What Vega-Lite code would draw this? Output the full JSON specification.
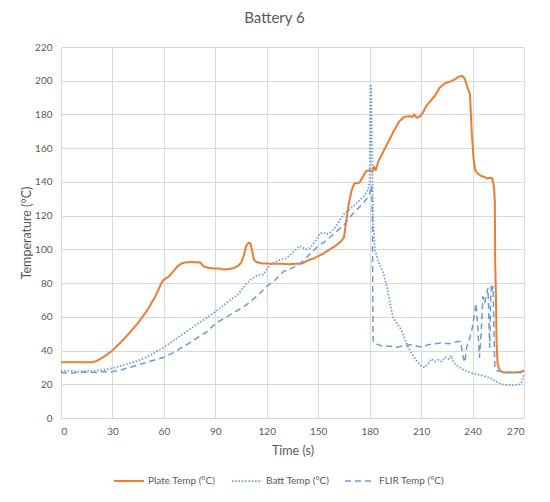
{
  "$schema": "https://vega.github.io/schema/vega-lite/v6.json",
  "autosize": {"type": "none"},
  "padding": {"left": 61, "top": 47, "right": 26, "bottom": 84},
  "width": 463,
  "height": 371,
  "background": "white",
  "title": {
    "text": "Battery 6",
    "font": "Lato",
    "fontSize": 15,
    "fontWeight": "normal",
    "color": "#595959",
    "dx": -18,
    "offset": 16
  },
  "config": {
    "view": {"stroke": null},
    "axis": {
      "labelFont": "Lato",
      "labelFontSize": 10,
      "labelColor": "#595959",
      "titleFont": "Lato",
      "titleFontSize": 12.5,
      "titleFontWeight": "normal",
      "titleColor": "#595959",
      "gridColor": "#D9D9D9",
      "domain": false,
      "ticks": false
    },
    "legend": {
      "labelFont": "Lato",
      "labelFontSize": 10,
      "labelColor": "#595959"
    }
  },
  "data": {
    "values": [
      {"series": "Plate Temp (°C)", "time": 0, "temp": 33},
      {"series": "Plate Temp (°C)", "time": 10, "temp": 33},
      {"series": "Plate Temp (°C)", "time": 18, "temp": 33},
      {"series": "Plate Temp (°C)", "time": 20, "temp": 33.5},
      {"series": "Plate Temp (°C)", "time": 23, "temp": 35},
      {"series": "Plate Temp (°C)", "time": 26, "temp": 37},
      {"series": "Plate Temp (°C)", "time": 30, "temp": 40},
      {"series": "Plate Temp (°C)", "time": 35, "temp": 45},
      {"series": "Plate Temp (°C)", "time": 40, "temp": 50.5},
      {"series": "Plate Temp (°C)", "time": 45, "temp": 56.5},
      {"series": "Plate Temp (°C)", "time": 50, "temp": 63.5},
      {"series": "Plate Temp (°C)", "time": 55, "temp": 72},
      {"series": "Plate Temp (°C)", "time": 58.5, "temp": 80},
      {"series": "Plate Temp (°C)", "time": 60, "temp": 82},
      {"series": "Plate Temp (°C)", "time": 63, "temp": 84},
      {"series": "Plate Temp (°C)", "time": 66, "temp": 87.5},
      {"series": "Plate Temp (°C)", "time": 68, "temp": 90},
      {"series": "Plate Temp (°C)", "time": 70, "temp": 91.5},
      {"series": "Plate Temp (°C)", "time": 72, "temp": 92.2},
      {"series": "Plate Temp (°C)", "time": 76, "temp": 92.5},
      {"series": "Plate Temp (°C)", "time": 80, "temp": 92.2},
      {"series": "Plate Temp (°C)", "time": 81, "temp": 92.5},
      {"series": "Plate Temp (°C)", "time": 83, "temp": 90},
      {"series": "Plate Temp (°C)", "time": 86, "temp": 89},
      {"series": "Plate Temp (°C)", "time": 89, "temp": 88.7},
      {"series": "Plate Temp (°C)", "time": 92, "temp": 88.6},
      {"series": "Plate Temp (°C)", "time": 95, "temp": 88},
      {"series": "Plate Temp (°C)", "time": 98, "temp": 88.3},
      {"series": "Plate Temp (°C)", "time": 101, "temp": 89},
      {"series": "Plate Temp (°C)", "time": 103, "temp": 90},
      {"series": "Plate Temp (°C)", "time": 105, "temp": 92},
      {"series": "Plate Temp (°C)", "time": 106.5, "temp": 96},
      {"series": "Plate Temp (°C)", "time": 108, "temp": 102},
      {"series": "Plate Temp (°C)", "time": 109.5, "temp": 104},
      {"series": "Plate Temp (°C)", "time": 110.5, "temp": 103.5},
      {"series": "Plate Temp (°C)", "time": 111.5, "temp": 99},
      {"series": "Plate Temp (°C)", "time": 112.5, "temp": 94},
      {"series": "Plate Temp (°C)", "time": 114, "temp": 92.5},
      {"series": "Plate Temp (°C)", "time": 117, "temp": 91.7},
      {"series": "Plate Temp (°C)", "time": 122, "temp": 91.5},
      {"series": "Plate Temp (°C)", "time": 128, "temp": 91.5},
      {"series": "Plate Temp (°C)", "time": 133, "temp": 91.2},
      {"series": "Plate Temp (°C)", "time": 138, "temp": 91.5},
      {"series": "Plate Temp (°C)", "time": 141, "temp": 91.7},
      {"series": "Plate Temp (°C)", "time": 144, "temp": 93.5},
      {"series": "Plate Temp (°C)", "time": 147, "temp": 94.5},
      {"series": "Plate Temp (°C)", "time": 150, "temp": 96},
      {"series": "Plate Temp (°C)", "time": 153, "temp": 97.5},
      {"series": "Plate Temp (°C)", "time": 156, "temp": 99.5},
      {"series": "Plate Temp (°C)", "time": 160, "temp": 102},
      {"series": "Plate Temp (°C)", "time": 163, "temp": 104.5},
      {"series": "Plate Temp (°C)", "time": 165, "temp": 107},
      {"series": "Plate Temp (°C)", "time": 165.7, "temp": 112},
      {"series": "Plate Temp (°C)", "time": 166.5, "temp": 118},
      {"series": "Plate Temp (°C)", "time": 168, "temp": 128},
      {"series": "Plate Temp (°C)", "time": 169.5, "temp": 135},
      {"series": "Plate Temp (°C)", "time": 171, "temp": 139},
      {"series": "Plate Temp (°C)", "time": 174, "temp": 139.5},
      {"series": "Plate Temp (°C)", "time": 176, "temp": 143},
      {"series": "Plate Temp (°C)", "time": 178, "temp": 146.5},
      {"series": "Plate Temp (°C)", "time": 180, "temp": 147},
      {"series": "Plate Temp (°C)", "time": 181.5, "temp": 146},
      {"series": "Plate Temp (°C)", "time": 182.5, "temp": 149},
      {"series": "Plate Temp (°C)", "time": 183.5, "temp": 147},
      {"series": "Plate Temp (°C)", "time": 185, "temp": 152},
      {"series": "Plate Temp (°C)", "time": 188, "temp": 158},
      {"series": "Plate Temp (°C)", "time": 191, "temp": 164},
      {"series": "Plate Temp (°C)", "time": 194, "temp": 170},
      {"series": "Plate Temp (°C)", "time": 197, "temp": 175.5},
      {"series": "Plate Temp (°C)", "time": 200, "temp": 178.5},
      {"series": "Plate Temp (°C)", "time": 203, "temp": 179},
      {"series": "Plate Temp (°C)", "time": 205, "temp": 178.5},
      {"series": "Plate Temp (°C)", "time": 206, "temp": 180},
      {"series": "Plate Temp (°C)", "time": 207.5, "temp": 178},
      {"series": "Plate Temp (°C)", "time": 209.5, "temp": 179},
      {"series": "Plate Temp (°C)", "time": 211, "temp": 181},
      {"series": "Plate Temp (°C)", "time": 213, "temp": 185},
      {"series": "Plate Temp (°C)", "time": 215, "temp": 187.5},
      {"series": "Plate Temp (°C)", "time": 218, "temp": 191},
      {"series": "Plate Temp (°C)", "time": 221, "temp": 196},
      {"series": "Plate Temp (°C)", "time": 224, "temp": 198.5},
      {"series": "Plate Temp (°C)", "time": 227, "temp": 199.5},
      {"series": "Plate Temp (°C)", "time": 230, "temp": 201},
      {"series": "Plate Temp (°C)", "time": 232, "temp": 202.5},
      {"series": "Plate Temp (°C)", "time": 234, "temp": 202.8},
      {"series": "Plate Temp (°C)", "time": 235.5, "temp": 201},
      {"series": "Plate Temp (°C)", "time": 237, "temp": 196},
      {"series": "Plate Temp (°C)", "time": 238.5, "temp": 192},
      {"series": "Plate Temp (°C)", "time": 239.5, "temp": 170},
      {"series": "Plate Temp (°C)", "time": 240.5, "temp": 155},
      {"series": "Plate Temp (°C)", "time": 241.5, "temp": 147},
      {"series": "Plate Temp (°C)", "time": 243, "temp": 145},
      {"series": "Plate Temp (°C)", "time": 245, "temp": 143.5},
      {"series": "Plate Temp (°C)", "time": 247, "temp": 143},
      {"series": "Plate Temp (°C)", "time": 248.5, "temp": 142},
      {"series": "Plate Temp (°C)", "time": 250.5, "temp": 142.5},
      {"series": "Plate Temp (°C)", "time": 251.5, "temp": 142},
      {"series": "Plate Temp (°C)", "time": 252.5, "temp": 137},
      {"series": "Plate Temp (°C)", "time": 253, "temp": 128},
      {"series": "Plate Temp (°C)", "time": 253.2, "temp": 92},
      {"series": "Plate Temp (°C)", "time": 253.6, "temp": 75},
      {"series": "Plate Temp (°C)", "time": 254, "temp": 45},
      {"series": "Plate Temp (°C)", "time": 254.6, "temp": 32},
      {"series": "Plate Temp (°C)", "time": 256, "temp": 28},
      {"series": "Plate Temp (°C)", "time": 258, "temp": 27},
      {"series": "Plate Temp (°C)", "time": 262, "temp": 27},
      {"series": "Plate Temp (°C)", "time": 266, "temp": 27},
      {"series": "Plate Temp (°C)", "time": 268, "temp": 27.2},
      {"series": "Plate Temp (°C)", "time": 269.5, "temp": 28},
      {"series": "Plate Temp (°C)", "time": 270, "temp": 27.5},

      {"series": "Batt Temp (°C)", "time": 0, "temp": 28},
      {"series": "Batt Temp (°C)", "time": 5, "temp": 28},
      {"series": "Batt Temp (°C)", "time": 10, "temp": 27.5},
      {"series": "Batt Temp (°C)", "time": 15, "temp": 28},
      {"series": "Batt Temp (°C)", "time": 20, "temp": 28},
      {"series": "Batt Temp (°C)", "time": 25, "temp": 28.5},
      {"series": "Batt Temp (°C)", "time": 30, "temp": 29.5},
      {"series": "Batt Temp (°C)", "time": 35, "temp": 31},
      {"series": "Batt Temp (°C)", "time": 40, "temp": 32.5},
      {"series": "Batt Temp (°C)", "time": 45, "temp": 34},
      {"series": "Batt Temp (°C)", "time": 50, "temp": 36},
      {"series": "Batt Temp (°C)", "time": 55, "temp": 39},
      {"series": "Batt Temp (°C)", "time": 60, "temp": 42},
      {"series": "Batt Temp (°C)", "time": 65, "temp": 45.5},
      {"series": "Batt Temp (°C)", "time": 70, "temp": 49},
      {"series": "Batt Temp (°C)", "time": 75, "temp": 52.5},
      {"series": "Batt Temp (°C)", "time": 80, "temp": 56},
      {"series": "Batt Temp (°C)", "time": 85, "temp": 59.5},
      {"series": "Batt Temp (°C)", "time": 90, "temp": 63},
      {"series": "Batt Temp (°C)", "time": 95, "temp": 67},
      {"series": "Batt Temp (°C)", "time": 100, "temp": 71},
      {"series": "Batt Temp (°C)", "time": 103, "temp": 73},
      {"series": "Batt Temp (°C)", "time": 106, "temp": 77},
      {"series": "Batt Temp (°C)", "time": 109, "temp": 80.5},
      {"series": "Batt Temp (°C)", "time": 112, "temp": 83},
      {"series": "Batt Temp (°C)", "time": 115, "temp": 85},
      {"series": "Batt Temp (°C)", "time": 118, "temp": 85},
      {"series": "Batt Temp (°C)", "time": 120, "temp": 88},
      {"series": "Batt Temp (°C)", "time": 122, "temp": 91},
      {"series": "Batt Temp (°C)", "time": 125, "temp": 92.5},
      {"series": "Batt Temp (°C)", "time": 128, "temp": 94},
      {"series": "Batt Temp (°C)", "time": 131, "temp": 94.5},
      {"series": "Batt Temp (°C)", "time": 134, "temp": 97},
      {"series": "Batt Temp (°C)", "time": 137, "temp": 100},
      {"series": "Batt Temp (°C)", "time": 139, "temp": 102},
      {"series": "Batt Temp (°C)", "time": 141, "temp": 101},
      {"series": "Batt Temp (°C)", "time": 143, "temp": 100},
      {"series": "Batt Temp (°C)", "time": 145, "temp": 100.5},
      {"series": "Batt Temp (°C)", "time": 147, "temp": 103},
      {"series": "Batt Temp (°C)", "time": 149, "temp": 106},
      {"series": "Batt Temp (°C)", "time": 151, "temp": 109.5},
      {"series": "Batt Temp (°C)", "time": 153, "temp": 110},
      {"series": "Batt Temp (°C)", "time": 155, "temp": 109},
      {"series": "Batt Temp (°C)", "time": 157, "temp": 110},
      {"series": "Batt Temp (°C)", "time": 160, "temp": 113},
      {"series": "Batt Temp (°C)", "time": 163, "temp": 118},
      {"series": "Batt Temp (°C)", "time": 165, "temp": 121},
      {"series": "Batt Temp (°C)", "time": 168, "temp": 123.5},
      {"series": "Batt Temp (°C)", "time": 171, "temp": 126},
      {"series": "Batt Temp (°C)", "time": 174, "temp": 129},
      {"series": "Batt Temp (°C)", "time": 177, "temp": 132},
      {"series": "Batt Temp (°C)", "time": 179, "temp": 135},
      {"series": "Batt Temp (°C)", "time": 180, "temp": 140},
      {"series": "Batt Temp (°C)", "time": 180.4, "temp": 198},
      {"series": "Batt Temp (°C)", "time": 180.9, "temp": 196},
      {"series": "Batt Temp (°C)", "time": 181.5, "temp": 150},
      {"series": "Batt Temp (°C)", "time": 182, "temp": 117},
      {"series": "Batt Temp (°C)", "time": 183, "temp": 100},
      {"series": "Batt Temp (°C)", "time": 185, "temp": 93},
      {"series": "Batt Temp (°C)", "time": 188, "temp": 86},
      {"series": "Batt Temp (°C)", "time": 190, "temp": 78},
      {"series": "Batt Temp (°C)", "time": 192, "temp": 67},
      {"series": "Batt Temp (°C)", "time": 193.5, "temp": 60},
      {"series": "Batt Temp (°C)", "time": 196, "temp": 56},
      {"series": "Batt Temp (°C)", "time": 198, "temp": 53},
      {"series": "Batt Temp (°C)", "time": 200, "temp": 48},
      {"series": "Batt Temp (°C)", "time": 202, "temp": 43},
      {"series": "Batt Temp (°C)", "time": 204, "temp": 39},
      {"series": "Batt Temp (°C)", "time": 206, "temp": 36},
      {"series": "Batt Temp (°C)", "time": 208, "temp": 33},
      {"series": "Batt Temp (°C)", "time": 210, "temp": 31},
      {"series": "Batt Temp (°C)", "time": 212, "temp": 30},
      {"series": "Batt Temp (°C)", "time": 214, "temp": 32},
      {"series": "Batt Temp (°C)", "time": 216, "temp": 35},
      {"series": "Batt Temp (°C)", "time": 218, "temp": 33.5},
      {"series": "Batt Temp (°C)", "time": 220, "temp": 34.5},
      {"series": "Batt Temp (°C)", "time": 222, "temp": 33.5},
      {"series": "Batt Temp (°C)", "time": 224, "temp": 36},
      {"series": "Batt Temp (°C)", "time": 226, "temp": 35},
      {"series": "Batt Temp (°C)", "time": 227.5, "temp": 37},
      {"series": "Batt Temp (°C)", "time": 229, "temp": 33},
      {"series": "Batt Temp (°C)", "time": 231, "temp": 31},
      {"series": "Batt Temp (°C)", "time": 234, "temp": 29},
      {"series": "Batt Temp (°C)", "time": 237, "temp": 27.5},
      {"series": "Batt Temp (°C)", "time": 240, "temp": 26.5},
      {"series": "Batt Temp (°C)", "time": 244, "temp": 25.5},
      {"series": "Batt Temp (°C)", "time": 248, "temp": 24.5},
      {"series": "Batt Temp (°C)", "time": 251, "temp": 23.5},
      {"series": "Batt Temp (°C)", "time": 253, "temp": 22},
      {"series": "Batt Temp (°C)", "time": 255, "temp": 21},
      {"series": "Batt Temp (°C)", "time": 257, "temp": 20},
      {"series": "Batt Temp (°C)", "time": 260, "temp": 19.5},
      {"series": "Batt Temp (°C)", "time": 264, "temp": 19.5},
      {"series": "Batt Temp (°C)", "time": 267, "temp": 19.8},
      {"series": "Batt Temp (°C)", "time": 268.5, "temp": 21},
      {"series": "Batt Temp (°C)", "time": 269.5, "temp": 24},
      {"series": "Batt Temp (°C)", "time": 270, "temp": 26},

      {"series": "FLIR Temp (°C)", "time": 0, "temp": 27},
      {"series": "FLIR Temp (°C)", "time": 5, "temp": 26.5},
      {"series": "FLIR Temp (°C)", "time": 10, "temp": 27},
      {"series": "FLIR Temp (°C)", "time": 15, "temp": 27.2},
      {"series": "FLIR Temp (°C)", "time": 20, "temp": 27},
      {"series": "FLIR Temp (°C)", "time": 25, "temp": 27.5},
      {"series": "FLIR Temp (°C)", "time": 30, "temp": 27.5},
      {"series": "FLIR Temp (°C)", "time": 35, "temp": 28.5},
      {"series": "FLIR Temp (°C)", "time": 40, "temp": 30},
      {"series": "FLIR Temp (°C)", "time": 45, "temp": 31.5},
      {"series": "FLIR Temp (°C)", "time": 50, "temp": 33},
      {"series": "FLIR Temp (°C)", "time": 55, "temp": 34.5},
      {"series": "FLIR Temp (°C)", "time": 60, "temp": 36},
      {"series": "FLIR Temp (°C)", "time": 65, "temp": 38.5},
      {"series": "FLIR Temp (°C)", "time": 70, "temp": 41.5},
      {"series": "FLIR Temp (°C)", "time": 75, "temp": 44.5},
      {"series": "FLIR Temp (°C)", "time": 80, "temp": 48},
      {"series": "FLIR Temp (°C)", "time": 85, "temp": 51},
      {"series": "FLIR Temp (°C)", "time": 90, "temp": 56},
      {"series": "FLIR Temp (°C)", "time": 95, "temp": 59},
      {"series": "FLIR Temp (°C)", "time": 100, "temp": 62},
      {"series": "FLIR Temp (°C)", "time": 105, "temp": 65},
      {"series": "FLIR Temp (°C)", "time": 110, "temp": 68.5},
      {"series": "FLIR Temp (°C)", "time": 115, "temp": 73},
      {"series": "FLIR Temp (°C)", "time": 120, "temp": 78},
      {"series": "FLIR Temp (°C)", "time": 125, "temp": 82},
      {"series": "FLIR Temp (°C)", "time": 130, "temp": 87},
      {"series": "FLIR Temp (°C)", "time": 135, "temp": 89},
      {"series": "FLIR Temp (°C)", "time": 140, "temp": 92},
      {"series": "FLIR Temp (°C)", "time": 145, "temp": 97},
      {"series": "FLIR Temp (°C)", "time": 150, "temp": 102},
      {"series": "FLIR Temp (°C)", "time": 155, "temp": 105.5},
      {"series": "FLIR Temp (°C)", "time": 160, "temp": 110},
      {"series": "FLIR Temp (°C)", "time": 165, "temp": 114.5},
      {"series": "FLIR Temp (°C)", "time": 170, "temp": 121},
      {"series": "FLIR Temp (°C)", "time": 175, "temp": 126},
      {"series": "FLIR Temp (°C)", "time": 178, "temp": 129.5},
      {"series": "FLIR Temp (°C)", "time": 180, "temp": 133},
      {"series": "FLIR Temp (°C)", "time": 181.2, "temp": 138},
      {"series": "FLIR Temp (°C)", "time": 181.6, "temp": 120},
      {"series": "FLIR Temp (°C)", "time": 181.8, "temp": 70},
      {"series": "FLIR Temp (°C)", "time": 182, "temp": 46},
      {"series": "FLIR Temp (°C)", "time": 183, "temp": 44},
      {"series": "FLIR Temp (°C)", "time": 185, "temp": 43.5},
      {"series": "FLIR Temp (°C)", "time": 188, "temp": 42.5},
      {"series": "FLIR Temp (°C)", "time": 192, "temp": 42.5},
      {"series": "FLIR Temp (°C)", "time": 196, "temp": 42},
      {"series": "FLIR Temp (°C)", "time": 200, "temp": 43},
      {"series": "FLIR Temp (°C)", "time": 204, "temp": 43.5},
      {"series": "FLIR Temp (°C)", "time": 208, "temp": 42.5},
      {"series": "FLIR Temp (°C)", "time": 211, "temp": 42},
      {"series": "FLIR Temp (°C)", "time": 214, "temp": 43.5},
      {"series": "FLIR Temp (°C)", "time": 218, "temp": 44},
      {"series": "FLIR Temp (°C)", "time": 222, "temp": 44.5},
      {"series": "FLIR Temp (°C)", "time": 226, "temp": 44},
      {"series": "FLIR Temp (°C)", "time": 230, "temp": 45},
      {"series": "FLIR Temp (°C)", "time": 233, "temp": 45.5},
      {"series": "FLIR Temp (°C)", "time": 234.5, "temp": 36},
      {"series": "FLIR Temp (°C)", "time": 235.5, "temp": 33},
      {"series": "FLIR Temp (°C)", "time": 236.5, "temp": 42},
      {"series": "FLIR Temp (°C)", "time": 238, "temp": 46},
      {"series": "FLIR Temp (°C)", "time": 240, "temp": 54},
      {"series": "FLIR Temp (°C)", "time": 242, "temp": 68},
      {"series": "FLIR Temp (°C)", "time": 243, "temp": 55},
      {"series": "FLIR Temp (°C)", "time": 244, "temp": 36},
      {"series": "FLIR Temp (°C)", "time": 245, "temp": 50},
      {"series": "FLIR Temp (°C)", "time": 246, "temp": 72},
      {"series": "FLIR Temp (°C)", "time": 247, "temp": 68},
      {"series": "FLIR Temp (°C)", "time": 248, "temp": 73},
      {"series": "FLIR Temp (°C)", "time": 249, "temp": 77},
      {"series": "FLIR Temp (°C)", "time": 249.5, "temp": 60},
      {"series": "FLIR Temp (°C)", "time": 250, "temp": 42},
      {"series": "FLIR Temp (°C)", "time": 250.5, "temp": 70},
      {"series": "FLIR Temp (°C)", "time": 251, "temp": 79},
      {"series": "FLIR Temp (°C)", "time": 251.5, "temp": 76},
      {"series": "FLIR Temp (°C)", "time": 252, "temp": 78},
      {"series": "FLIR Temp (°C)", "time": 252.5, "temp": 50},
      {"series": "FLIR Temp (°C)", "time": 253, "temp": 30},
      {"series": "FLIR Temp (°C)", "time": 254, "temp": 28},
      {"series": "FLIR Temp (°C)", "time": 258, "temp": 27.5},
      {"series": "FLIR Temp (°C)", "time": 262, "temp": 27},
      {"series": "FLIR Temp (°C)", "time": 266, "temp": 27.3},
      {"series": "FLIR Temp (°C)", "time": 268, "temp": 27},
      {"series": "FLIR Temp (°C)", "time": 270, "temp": 27.5}
    ]
  },
  "mark": {"type": "line", "strokeJoin": "round"},
  "encoding": {
    "x": {
      "field": "time",
      "type": "quantitative",
      "title": "Time (s)",
      "scale": {"domain": [0, 270], "nice": false},
      "axis": {
        "values": [0, 30, 60, 90, 120, 150, 180, 210, 240, 270],
        "labelPadding": 8,
        "titlePadding": 8
      }
    },
    "y": {
      "field": "temp",
      "type": "quantitative",
      "title": "Temperature (°C)",
      "scale": {"domain": [0, 220], "nice": false},
      "axis": {
        "values": [0, 20, 40, 60, 80, 100, 120, 140, 160, 180, 200, 220],
        "labelPadding": 9,
        "titlePadding": 1
      }
    },
    "color": {
      "field": "series",
      "type": "nominal",
      "scale": {
        "domain": ["Plate Temp (°C)", "Batt Temp (°C)", "FLIR Temp (°C)"],
        "range": ["#ED7D31", "#6A9BDA", "#6A9BDA"]
      },
      "legend": {
        "title": null,
        "orient": "none",
        "legendX": 52,
        "legendY": 418,
        "direction": "horizontal",
        "symbolType": "stroke",
        "symbolSize": 900,
        "labelOffset": 3,
        "columnPadding": 12
      }
    },
    "strokeDash": {
      "field": "series",
      "type": "nominal",
      "scale": {
        "domain": ["Plate Temp (°C)", "Batt Temp (°C)", "FLIR Temp (°C)"],
        "range": [[1, 0], [1.5, 1.8], [6, 4]]
      },
      "legend": {"title": null}
    },
    "strokeWidth": {
      "field": "series",
      "type": "nominal",
      "scale": {
        "domain": ["Plate Temp (°C)", "Batt Temp (°C)", "FLIR Temp (°C)"],
        "range": [2, 1.5, 1.5]
      },
      "legend": {"title": null}
    }
  }
}
